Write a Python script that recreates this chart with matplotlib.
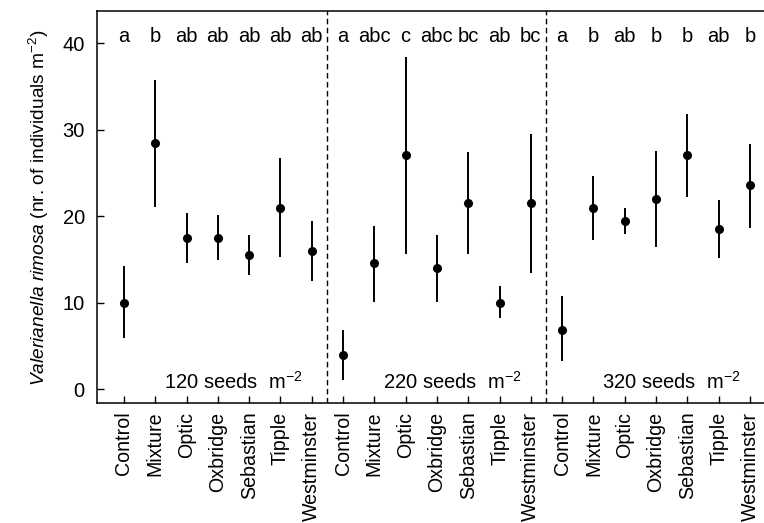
import numpy as np
import matplotlib
matplotlib.use("Agg")
import matplotlib.pyplot as plt

# --- data ---------------------------------------------------------------
treatments = ["Control", "Mixture", "Optic", "Oxbridge", "Sebastian", "Tipple", "Westminster"]
densities = ["120", "220", "320"]

mean_120 = [10.0, 28.5, 17.5, 17.5, 15.5, 21.0, 16.0]
low_120 = [5.9, 21.1, 14.6, 14.9, 13.2, 15.3, 12.5]
high_120 = [14.2, 35.8, 20.4, 20.1, 17.8, 26.7, 19.5]
letters_120 = ["a", "b", "ab", "ab", "ab", "ab", "ab"]

mean_220 = [4.0, 14.6, 27.1, 14.0, 21.5, 10.0, 21.5]
low_220 = [1.1, 10.1, 15.6, 10.1, 15.6, 8.2, 13.5]
high_220 = [6.9, 18.9, 38.4, 17.8, 27.4, 11.9, 29.5]
letters_220 = ["a", "abc", "c", "abc", "bc", "ab", "bc"]

mean_320 = [6.9, 21.0, 19.5, 22.0, 27.1, 18.5, 23.6]
low_320 = [3.3, 17.3, 18.0, 16.5, 22.2, 15.2, 18.7]
high_320 = [10.8, 24.7, 21.0, 27.5, 31.8, 21.9, 28.4]
letters_320 = ["a", "b", "ab", "b", "b", "ab", "b"]

means = mean_120 + mean_220 + mean_320
lows = low_120 + low_220 + low_320
highs = high_120 + high_220 + high_320
letters = letters_120 + letters_220 + letters_320
labels = treatments * len(densities)

# --- style ----------------------------------------------------------------
plt.rcParams['font.family'] = ['Liberation Sans', 'DejaVu Sans']
plt.rcParams['mathtext.fontset'] = 'custom'
plt.rcParams['mathtext.rm'] = 'Liberation Sans'
plt.rcParams['mathtext.it'] = 'Liberation Sans:italic'
fs = 14.5

fig = plt.figure(figsize=(7.64, 5.23), dpi=100)
ax = fig.add_axes([0.1274, 0.2289, 0.8890, 0.7495])

x = np.arange(1, len(means) + 1)
ax.vlines(x, lows, highs, color='black', lw=1.4)
ax.plot(x, means, 'o', color='black', ms=5.5)

n = len(treatments)
for k in range(1, len(densities)):
    ax.axvline(k * n + 0.5, color='black', lw=1.0, ls=(0, (4, 2.5)))

for xi, lt in zip(x, letters):
    ax.text(xi, 40.8, lt, ha='center', va='center', fontsize=fs)

for k, d in enumerate(densities):
    ax.text(k * n + 4.5, 0, d + r" seeds  m$^{-2}$", ha='center', va='baseline', fontsize=fs)

ax.set_xlim(0.15, 21.85)
ax.set_ylim(-1.62, 43.7)
ax.set_xticks(x)
ax.set_xticklabels(labels, rotation=90, fontsize=14.1)
ax.set_yticks([0, 10, 20, 30, 40])
ax.tick_params(axis='y', labelsize=fs, direction='in', length=5, width=1.0, pad=9)
ax.tick_params(axis='x', direction='in', length=5, width=1.0, pad=6)
for sp in ax.spines.values():
    sp.set_linewidth(1.1)

ax.set_ylabel(r"$\it{Valerianella\ rimosa}$ (nr. of individuals m$^{-2}$)", fontsize=13.8, labelpad=8)

fig.savefig("out.png", dpi=100)
